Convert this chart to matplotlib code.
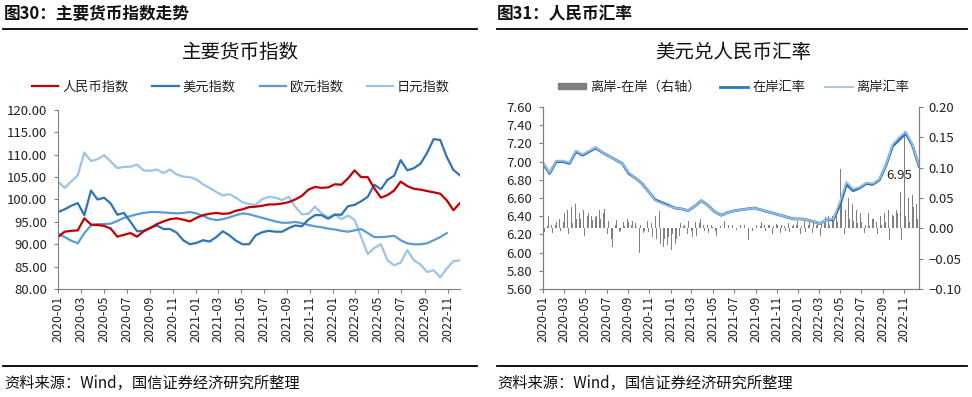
import matplotlib
matplotlib.use('Agg')
import matplotlib.pyplot as plt
import matplotlib.dates as mdates
import pandas as pd
from matplotlib.lines import Line2D
from matplotlib.patches import Patch
from matplotlib.ticker import FuncFormatter, MultipleLocator

plt.rcParams['font.family'] = ['Noto Sans CJK SC', 'DejaVu Sans']

# ---------------- data: left chart (major currency indices) ----------------
cny_index = [91.6, 92.8, 93.0, 93.1, 95.8, 94.4, 94.3, 94.1, 93.5, 91.7, 92.1, 92.5, 91.7, 92.9, 93.6,
             94.5, 95.1, 95.6, 95.8, 95.5, 95.1, 95.9, 96.5, 96.8, 97.0, 96.8, 96.9, 97.5, 97.8, 98.3,
             98.4, 98.6, 98.9, 98.9, 99.1, 99.4, 100.0, 100.8, 102.2, 102.8, 102.6, 102.7, 103.4, 103.3,
             104.7, 106.5, 105.0, 105.0, 102.5, 100.4, 101.0, 102.0, 104.0, 103.0, 102.4, 102.2, 101.9,
             101.6, 101.3, 99.8, 97.6, 99.2]
usd_index = [97.2, 97.8, 98.6, 99.2, 96.5, 102.0, 100.0, 100.4, 99.1, 96.6, 97.0, 95.0, 92.9, 93.0, 93.7,
             94.2, 93.4, 93.4, 92.6, 90.9, 90.0, 90.3, 90.9, 90.6, 91.6, 92.9, 92.0, 90.8, 90.0, 90.0,
             92.0, 92.7, 93.0, 92.8, 92.8, 93.6, 94.2, 94.0, 95.5, 96.5, 96.5, 95.7, 96.6, 96.6, 98.5,
             98.8, 99.6, 100.6, 103.3, 102.3, 104.4, 105.3, 108.8, 106.5, 107.0, 108.0, 110.4, 113.5,
             113.3, 109.5, 106.6, 105.4]
eur_index = [92.4, 91.6, 90.8, 90.2, 92.5, 94.2, 94.5, 94.5, 94.6, 95.2, 95.9, 96.3, 96.7, 97.0, 97.2,
             97.2, 97.1, 97.0, 96.9, 97.0, 97.2, 96.9, 96.3, 95.7, 95.4, 95.6, 96.0, 96.5, 96.9, 96.7,
             96.3, 95.9, 95.5, 95.1, 94.8, 94.8, 95.0, 94.7, 94.3, 94.0, 93.8, 93.5, 93.3, 93.0, 92.8,
             93.1, 93.4, 92.5, 91.6, 91.6, 91.7, 91.9, 90.9, 90.2, 90.0, 90.0, 90.2, 90.9, 91.6, 92.5]
jpy_index = [104.0, 102.6, 104.0, 105.4, 110.5, 108.6, 109.0, 109.9, 108.5, 107.0, 107.3, 107.3, 107.8,
             106.5, 106.4, 106.7, 105.9, 106.7, 105.6, 105.1, 105.0, 104.5, 103.4, 102.6, 101.7, 100.9,
             101.2, 100.4, 99.4, 99.0, 98.8, 100.1, 100.6, 100.4, 99.9, 100.6, 98.4, 96.7, 96.8, 98.4,
             96.9, 96.0, 96.7, 95.6, 96.4, 95.5, 91.6, 87.8, 89.2, 90.0, 86.4, 85.3, 85.9, 88.7, 86.4,
             85.5, 83.8, 84.2, 82.6, 84.6, 86.2, 86.4]
left_start, left_end = '2020-01-01', '2022-12-04'
left_names = ['人民币指数', '美元指数', '欧元指数', '日元指数']

# ---------------- data: right chart (USD/CNY) ----------------
onshore = [6.98, 6.87, 7.00, 7.00, 6.98, 7.11, 7.07, 7.11, 7.15, 7.10, 7.06, 7.02, 6.98, 6.87, 6.82,
           6.76, 6.67, 6.58, 6.55, 6.52, 6.49, 6.48, 6.46, 6.51, 6.57, 6.52, 6.45, 6.41, 6.44, 6.46,
           6.47, 6.48, 6.49, 6.47, 6.45, 6.43, 6.41, 6.39, 6.37, 6.37, 6.36, 6.34, 6.32, 6.36, 6.36,
           6.52, 6.75, 6.68, 6.71, 6.76, 6.75, 6.80, 6.96, 7.17, 7.24, 7.31, 7.18, 6.95]
offshore = [6.99, 6.88, 7.01, 7.01, 6.99, 7.12, 7.08, 7.12, 7.16, 7.10, 7.06, 7.02, 6.98, 6.88, 6.82,
            6.76, 6.67, 6.57, 6.54, 6.51, 6.49, 6.48, 6.46, 6.51, 6.57, 6.52, 6.45, 6.41, 6.44, 6.46,
            6.47, 6.48, 6.49, 6.47, 6.45, 6.43, 6.41, 6.39, 6.37, 6.37, 6.36, 6.34, 6.32, 6.36, 6.37,
            6.56, 6.78, 6.70, 6.72, 6.77, 6.76, 6.81, 6.97, 7.19, 7.27, 7.33, 7.19, 6.96]
spread = [
    0.010, -0.006, -0.015, 0.004, 0.020, 0.012, 0.005, -0.008,
    -0.015, 0.006, 0.010, 0.018, 0.015, -0.004, -0.005, 0.010,
    0.025, 0.012, 0.030, -0.010, 0.022, 0.035, 0.008, 0.020,
    0.040, 0.015, -0.020, 0.025, 0.015, 0.045, 0.030, -0.012,
    0.010, 0.020, 0.025, 0.006, 0.020, 0.014, -0.005, 0.018,
    0.020, 0.008, 0.030, 0.015, 0.010, 0.025, 0.032, 0.005,
    -0.010, 0.012, 0.010, -0.018, -0.030, 0.008, 0.005, 0.014,
    0.015, -0.006, -0.005, 0.012, 0.010, 0.004, 0.002, 0.016,
    0.010, -0.004, 0.005, 0.012, -0.010, 0.008, 0.003, 0.006,
    -0.040, 0.006, 0.010, -0.008, -0.005, 0.018, 0.012, -0.006,
    -0.010, 0.008, -0.015, -0.012, 0.020, -0.018, -0.020, 0.028,
    -0.025, -0.012, -0.030, -0.018, -0.020, -0.028, -0.015, -0.022,
    -0.035, -0.010, 0.015, -0.025, -0.018, -0.040, -0.012, 0.008,
    0.020, 0.004, 0.005, -0.006, -0.010, 0.012, 0.008, -0.004,
    -0.015, 0.006, 0.010, -0.012, -0.020, 0.008, 0.015, 0.004,
    0.005, -0.004, 0.010, 0.006, -0.008, 0.012, 0.006, 0.002,
    0.010, -0.005, -0.012, 0.006, 0.008, 0.004, 0.005, -0.006,
    0.012, 0.004, -0.010, 0.006, 0.010, -0.004, 0.006, 0.009,
    0.008, -0.003, -0.005, 0.010, 0.006, 0.012, -0.004, 0.005,
    0.006, 0.003, -0.020, 0.005, 0.008, -0.004, 0.005, 0.007,
    0.006, -0.003, -0.008, 0.004, 0.010, 0.006, 0.005, -0.004,
    -0.004, 0.005, 0.006, 0.008, -0.010, 0.004, 0.005, 0.007,
    0.005, 0.003, -0.008, 0.006, 0.006, 0.004, -0.005, 0.008,
    0.008, -0.006, 0.012, 0.004, 0.005, 0.010, 0.006, 0.012,
    0.006, -0.010, 0.004, 0.008, 0.012, -0.006, 0.010, 0.005,
    0.010, 0.006, -0.008, 0.012, 0.004, 0.006, 0.009, -0.005,
    -0.012, 0.010, 0.014, 0.008, 0.018, 0.012, 0.020, 0.006,
    0.012, 0.020, 0.015, 0.020, 0.025, 0.010, 0.030, 0.098,
    0.045, 0.020, -0.010, 0.030, 0.040, 0.050, 0.015, 0.035,
    0.040, 0.012, 0.020, 0.030, 0.008, 0.015, 0.025, 0.010,
    0.010, -0.008, 0.006, 0.012, 0.025, 0.004, 0.006, 0.015,
    0.015, 0.008, 0.010, -0.010, 0.012, 0.020, 0.006, 0.018,
    0.025, 0.010, 0.015, 0.030, -0.020, 0.012, 0.022, 0.020,
    0.020, 0.030, 0.025, 0.045, 0.060, -0.020, 0.030, 0.160,
    0.020, -0.015, 0.050, 0.010, -0.010, 0.055, 0.035, 0.020,
    0.040, 0.015, -0.030]
right_start, right_end = '2020-01-01', '2022-12-13'
right_names = ['离岸-在岸（右轴）', '在岸汇率', '离岸汇率']
last_label = '6.95'

W, H = 972, 397
fig = plt.figure(figsize=(W / 100, H / 100), dpi=100)

def fx(px):
    return px / W

def fy(py):
    return 1 - py / H

TXT = '#222222'
SPINE = '#7f7f7f'

# headers and separator lines
fig.text(fx(4), fy(14), '图30：主要货币指数走势', fontsize=12, fontweight='bold', ha='left', va='center', color='#111111')
fig.text(fx(497), fy(14), '图31：人民币汇率', fontsize=12, fontweight='bold', ha='left', va='center', color='#111111')
for x0, x1 in [(3, 477), (497, 967)]:
    fig.add_artist(Line2D([fx(x0), fx(x1)], [fy(29), fy(29)], color='black', lw=1.3))
    fig.add_artist(Line2D([fx(x0), fx(x1)], [fy(366), fy(366)], color='black', lw=1.3))
fig.text(fx(4), fy(383), '资料来源：Wind，国信证券经济研究所整理', fontsize=11, ha='left', va='center', color='#111111')
fig.text(fx(497), fy(383), '资料来源：Wind，国信证券经济研究所整理', fontsize=11, ha='left', va='center', color='#111111')

# chart titles
fig.text(fx(240), fy(52), '主要货币指数', fontsize=14, ha='center', va='center', color='#111111')
fig.text(fx(733), fy(52), '美元兑人民币汇率', fontsize=14, ha='center', va='center', color='#111111')

def style_dates(ax):
    ax.xaxis.set_major_locator(mdates.MonthLocator(bymonth=[1, 3, 5, 7, 9, 11]))
    ax.xaxis.set_major_formatter(mdates.DateFormatter('%Y-%m'))
    for lab in ax.get_xticklabels():
        lab.set_rotation(90)
    ax.tick_params(axis='x', direction='out', length=3, width=0.8, color=SPINE, labelsize=9, labelcolor=TXT, pad=2)
    ax.tick_params(axis='y', direction='out', length=3, width=0.8, color=SPINE, labelsize=9.5, labelcolor=TXT, pad=5)

# ---------------- left chart ----------------
axL = fig.add_axes([fx(58), fy(289), fx(460 - 58), (289 - 110) / H])
dL = pd.date_range(left_start, left_end, periods=len(cny_index))
colorsL = ['#C00000', '#2E75B6', '#5B9BD5', '#9DC3E6']
seriesL = [cny_index, usd_index, eur_index, jpy_index]
order = [3, 2, 1, 0]
linesL = {}
for i in order:
    vals = seriesL[i]
    ln, = axL.plot(dL[:len(vals)], vals, color=colorsL[i], lw=1.6, label=left_names[i])
    linesL[i] = ln
axL.set_ylim(80, 120)
axL.yaxis.set_major_locator(MultipleLocator(5))
axL.yaxis.set_major_formatter(FuncFormatter(lambda v, p: f'{v:.2f}'))
axL.set_xlim(pd.Timestamp(left_start), dL[-1])
for s in ['top', 'right']:
    axL.spines[s].set_visible(False)
for s in ['left', 'bottom']:
    axL.spines[s].set_color(SPINE)
    axL.spines[s].set_linewidth(0.8)
style_dates(axL)
fig.legend([linesL[i] for i in range(4)], left_names, loc='center', bbox_to_anchor=(fx(241), fy(87)),
           ncol=4, frameon=False, fontsize=9.5, handlelength=2.0, columnspacing=1.8, handletextpad=0.3,
           labelcolor=TXT)

# ---------------- right chart ----------------
axR = fig.add_axes([fx(543), fy(289), fx(919 - 543), (289 - 107) / H])
axR2 = axR.twinx()
axR.set_zorder(axR2.get_zorder() + 1)
axR.patch.set_visible(False)
dR = pd.date_range(right_start, right_end, periods=len(onshore))
dS = pd.date_range('2020-01-02', right_end, periods=len(spread))
axR2.bar(dS, spread, width=1.8, color='#808080', label=right_names[0])
l_on, = axR.plot(dR, onshore, color='#2E75B6', lw=2.0, label=right_names[1])
l_off, = axR.plot(dR, offshore, color='#9DC3E6', lw=1.4, alpha=0.9, label=right_names[2])
axR.set_ylim(5.6, 7.6)
axR.yaxis.set_major_locator(MultipleLocator(0.2))
axR.yaxis.set_major_formatter(FuncFormatter(lambda v, p: f'{v:.2f}'))
axR2.set_ylim(-0.10, 0.20)
axR2.yaxis.set_major_locator(MultipleLocator(0.05))
axR2.yaxis.set_major_formatter(FuncFormatter(lambda v, p: ('−' if v < -1e-9 else '') + f'{abs(v):.2f}'))
axR.set_xlim(pd.Timestamp(right_start), dR[-1])
for a in (axR, axR2):
    a.spines['top'].set_visible(False)
    for s in ['left', 'bottom', 'right']:
        a.spines[s].set_color(SPINE)
        a.spines[s].set_linewidth(0.8)
style_dates(axR)
axR2.tick_params(axis='y', direction='out', length=3, width=0.8, color=SPINE, labelsize=9.5, labelcolor=TXT, pad=4)
axR.annotate(last_label, xy=(dR[-1], onshore[-1]), xytext=(-7, -3), textcoords='offset pixels',
             ha='right', va='top', fontsize=9.5, color=TXT)
fig.legend([Patch(color='#7f7f7f'), l_on, l_off], right_names, loc='center', bbox_to_anchor=(fx(734), fy(87)),
           ncol=3, frameon=False, fontsize=9.5, handlelength=2.1, handleheight=0.35, columnspacing=1.5,
           handletextpad=0.3, labelcolor=TXT)

fig.savefig('out.png', dpi=100)
